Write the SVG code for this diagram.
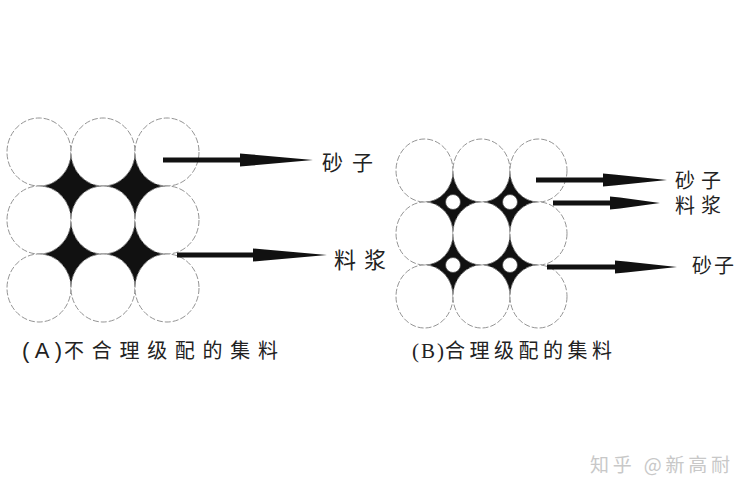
<svg xmlns="http://www.w3.org/2000/svg" width="750" height="500" viewBox="0 0 750 500">
<style>
.grain{fill:#fff;stroke:#888;stroke-width:0.9;stroke-dasharray:6 2}
.gap{fill:#111}
.fine{fill:#fff;stroke:#444;stroke-width:0.8}
.arrow{fill:#111}
.lbl{font-family:"Liberation Serif","Noto Sans CJK SC",serif;fill:#222}
.cap{font-family:"Liberation Sans","Noto Sans CJK SC",sans-serif;fill:#222}
.wm{font-family:"Noto Sans CJK SC",sans-serif;fill:#c8c8c8}
</style>
<rect width="750" height="500" fill="#fff"/>

<g id="gridA">
  <rect class="gap" x="39" y="152" width="128" height="136"/>
  <ellipse class="grain" cx="39" cy="152" rx="32" ry="34"/>
  <ellipse class="grain" cx="103" cy="152" rx="32" ry="34"/>
  <ellipse class="grain" cx="167" cy="152" rx="32" ry="34"/>
  <ellipse class="grain" cx="39" cy="220" rx="32" ry="34"/>
  <ellipse class="grain" cx="103" cy="220" rx="32" ry="34"/>
  <ellipse class="grain" cx="167" cy="220" rx="32" ry="34"/>
  <ellipse class="grain" cx="39" cy="288" rx="32" ry="34"/>
  <ellipse class="grain" cx="103" cy="288" rx="32" ry="34"/>
  <ellipse class="grain" cx="167" cy="288" rx="32" ry="34"/>
</g>

<g id="gridB">
  <rect class="gap" x="424.5" y="170.5" width="114" height="126"/>
  <ellipse class="grain" cx="424.5" cy="170.5" rx="28.5" ry="31.5"/>
  <ellipse class="grain" cx="481.5" cy="170.5" rx="28.5" ry="31.5"/>
  <ellipse class="grain" cx="538.5" cy="170.5" rx="28.5" ry="31.5"/>
  <ellipse class="grain" cx="424.5" cy="233.5" rx="28.5" ry="31.5"/>
  <ellipse class="grain" cx="481.5" cy="233.5" rx="28.5" ry="31.5"/>
  <ellipse class="grain" cx="538.5" cy="233.5" rx="28.5" ry="31.5"/>
  <ellipse class="grain" cx="424.5" cy="296.5" rx="28.5" ry="31.5"/>
  <ellipse class="grain" cx="481.5" cy="296.5" rx="28.5" ry="31.5"/>
  <ellipse class="grain" cx="538.5" cy="296.5" rx="28.5" ry="31.5"/>
  <circle class="fine" cx="453" cy="202" r="7.5"/>
  <circle class="fine" cx="510" cy="202" r="7.5"/>
  <circle class="fine" cx="453" cy="265" r="7.5"/>
  <circle class="fine" cx="510" cy="265" r="7.5"/>
</g>

<g id="connectors">
  <path class="arrow" d="M163,157.5 H240 V153.5 L252,154.5 L313,160 L252,165.5 L240,166.5 V162.5 H163 Z"/>
  <path class="arrow" d="M177,252.5 H253 V248.5 L265,249.5 L327,255 L265,260.5 L253,261.5 V257.5 H177 Z"/>
  <path class="arrow" d="M536,177.5 H603 V173.5 L614,174.5 L667,180 L614,185.5 L603,186.5 V182.5 H536 Z"/>
  <path class="arrow" d="M553,200.5 H610 V196.5 L620,197.5 L660,203 L620,208.5 L610,209.5 V205.5 H553 Z"/>
  <path class="arrow" d="M547,264.5 H615 V260.5 L626,261.5 L677,267 L626,272.5 L615,273.5 V269.5 H547 Z"/>
</g>

<g id="labelA1"><text class="lbl" x="322" y="170" font-size="21" textLength="51" lengthAdjust="spacing">砂子</text></g>
<g id="labelA2"><text class="lbl" x="334" y="268" font-size="22" textLength="52" lengthAdjust="spacing">料浆</text></g>
<g id="labelB1"><text class="lbl" x="675" y="188" font-size="20" textLength="46" lengthAdjust="spacing">砂子</text></g>
<g id="labelB2"><text class="lbl" x="675" y="213" font-size="20" textLength="46" lengthAdjust="spacing">料浆</text></g>
<g id="labelB3"><text class="lbl" x="692" y="273" font-size="20" textLength="42" lengthAdjust="spacing">砂子</text></g>

<g id="captionA">
  <text class="cap" x="22" y="358" font-size="22" textLength="40" lengthAdjust="spacing">(A)</text>
  <text class="cap" x="64" y="358" font-size="20" textLength="214" lengthAdjust="spacing">不合理级配的集料</text>
</g>
<g id="captionB">
  <text class="lbl" x="412" y="358" font-size="21" textLength="32" lengthAdjust="spacing">(B)</text>
  <text class="lbl" x="445" y="358" font-size="20" textLength="167" lengthAdjust="spacing">合理级配的集料</text>
</g>

<text class="wm" x="590" y="472" font-size="19" textLength="140" lengthAdjust="spacing">知乎 @新高耐</text>
</svg>
